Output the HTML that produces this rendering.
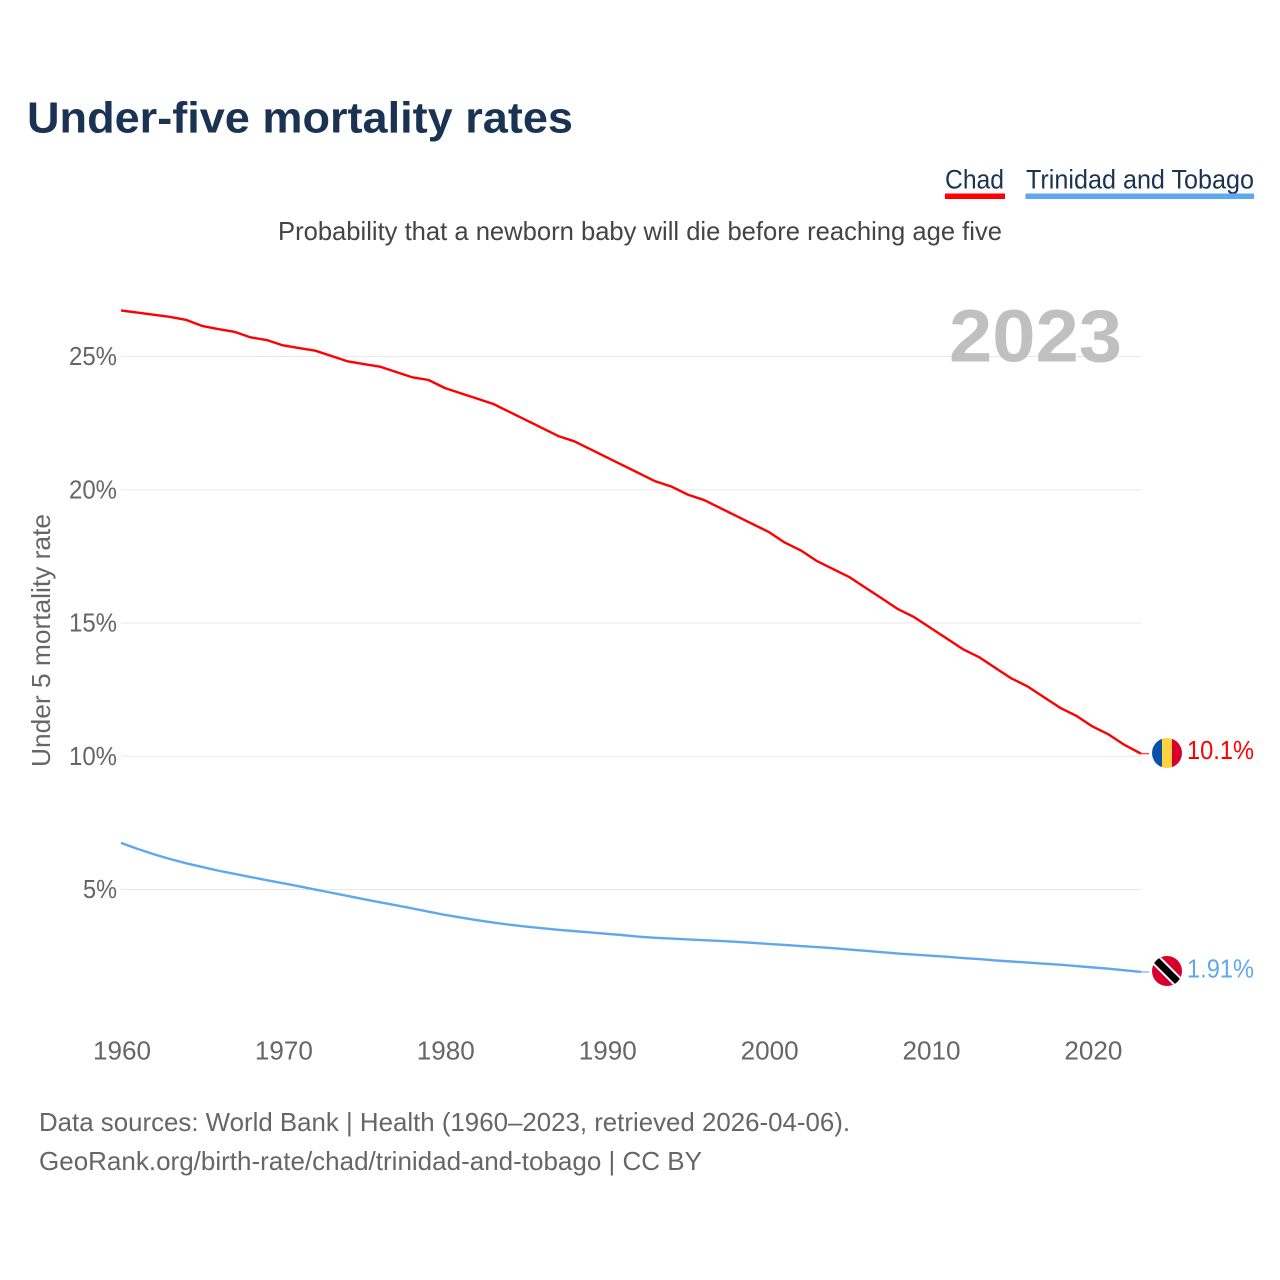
<!DOCTYPE html>
<html lang="en">
<head>
<meta charset="utf-8">
<title>Under-five mortality rates</title>
<style>
html,body{margin:0;padding:0;background:#fff;width:1280px;height:1280px;overflow:hidden}
svg{display:block}
text{font-family:"Liberation Sans",sans-serif}
</style>
</head>
<body>
<svg id="chart" width="1280" height="1280" viewBox="0 0 1280 1280" xmlns="http://www.w3.org/2000/svg">
  <rect width="1280" height="1280" fill="#fff"/>
  <text x="27" y="132.5" font-size="44" font-weight="bold" fill="#1a3353" textLength="546" lengthAdjust="spacingAndGlyphs">Under-five mortality rates</text>
  <text x="945" y="188.5" font-size="27" fill="#1a3353" textLength="59" lengthAdjust="spacingAndGlyphs">Chad</text>
  <rect x="945" y="193.5" width="60" height="5.5" fill="#ff0000"/>
  <text x="1026" y="188.5" font-size="27" fill="#1a3353" textLength="228" lengthAdjust="spacingAndGlyphs">Trinidad and Tobago</text>
  <rect x="1025.5" y="193.5" width="228.5" height="5.5" fill="#5fa8ee"/>
  <text x="278" y="240" font-size="26" fill="#444" textLength="724" lengthAdjust="spacingAndGlyphs">Probability that a newborn baby will die before reaching age five</text>
  <g id="grid"></g>
  <g id="yticks"></g>
  <g id="xticks"></g>
  <text x="949" y="361.5" font-size="74" font-weight="bold" fill="#c0c0c0" textLength="173" lengthAdjust="spacingAndGlyphs">2023</text>
  <text transform="translate(50,767) rotate(-90)" x="0" y="0" font-size="26" fill="#666" textLength="253" lengthAdjust="spacingAndGlyphs">Under 5 mortality rate</text>
  <g id="series"></g>
  <defs>
    <clipPath id="flag-clip-chad"><circle cx="1167" cy="753" r="15"/></clipPath>
    <clipPath id="flag-clip-tt"><circle cx="1167" cy="971" r="15"/></clipPath>
  </defs>
  <g id="flag-chad">
    <g clip-path="url(#flag-clip-chad)">
      <rect x="1152" y="730" width="10" height="46" fill="#0b50a8"/>
      <rect x="1162" y="730" width="10" height="46" fill="#ffd23f"/>
      <rect x="1172" y="730" width="10" height="46" fill="#d7002c"/>
    </g>
  </g>
  <g id="flag-tt">
    <g clip-path="url(#flag-clip-tt)">
      <rect x="1152" y="950" width="30" height="42" fill="#d7002c"/>
      <line x1="1150" y1="954" x2="1184" y2="988" stroke="#fff" stroke-width="11"/>
      <line x1="1150" y1="954" x2="1184" y2="988" stroke="#000" stroke-width="7"/>
    </g>
  </g>
  <text id="value-chad" x="1187" y="760" font-size="26" fill="#ff0000" textLength="67" lengthAdjust="spacingAndGlyphs">10.1%</text>
  <text id="value-tt" x="1187" y="978" font-size="26" fill="#5fa8ee" textLength="67" lengthAdjust="spacingAndGlyphs">1.91%</text>
  <text x="39" y="1131" font-size="26" fill="#666" textLength="811" lengthAdjust="spacingAndGlyphs">Data sources: World Bank | Health (1960–2023, retrieved 2026-04-06).</text>
  <text x="39" y="1170" font-size="26" fill="#666" textLength="663" lengthAdjust="spacingAndGlyphs">GeoRank.org/birth-rate/chad/trinidad-and-tobago | CC BY</text>
</svg>
<script>
const startYear = 1960;
const yTickValues = [5, 10, 15, 20, 25];
const yTickLabels = ["5%", "10%", "15%", "20%", "25%"];
const xTickValues = [1960, 1970, 1980, 1990, 2000, 2010, 2020];
const xTickLabels = ["1960", "1970", "1980", "1990", "2000", "2010", "2020"];
const chadValues = [
  26.73, 26.65, 26.57, 26.49, 26.38, 26.15, 26.03, 25.93, 25.72, 25.62,
  25.42, 25.32, 25.22, 25.02, 24.82, 24.72, 24.62, 24.42, 24.22, 24.12,
  23.82, 23.62, 23.42, 23.22, 22.92, 22.62, 22.32, 22.02, 21.82, 21.52,
  21.22, 20.92, 20.62, 20.32, 20.12, 19.82, 19.62, 19.32, 19.02, 18.72,
  18.42, 18.02, 17.72, 17.32, 17.02, 16.72, 16.32, 15.92, 15.52, 15.22,
  14.82, 14.42, 14.02, 13.72, 13.32, 12.92, 12.62, 12.22, 11.82, 11.52,
  11.12, 10.82, 10.42, 10.1
];
const trinidadValues = [
  6.75, 6.53, 6.33, 6.15, 5.99, 5.85, 5.71, 5.59, 5.47, 5.35,
  5.24, 5.12, 5.0, 4.88, 4.76, 4.64, 4.52, 4.41, 4.29, 4.17,
  4.05, 3.95, 3.85, 3.76, 3.68, 3.61, 3.55, 3.49, 3.44, 3.39,
  3.34, 3.29, 3.23, 3.19, 3.16, 3.13, 3.1, 3.07, 3.04, 3.0,
  2.96, 2.92, 2.88, 2.84, 2.8, 2.75, 2.7, 2.65, 2.6, 2.56,
  2.52, 2.48, 2.43, 2.39, 2.34, 2.3, 2.26, 2.22, 2.18, 2.13,
  2.08, 2.03, 1.97, 1.91
];

const NS = "http://www.w3.org/2000/svg";
const xScale = year => 121 + (year - 1960) * (1141 - 121) / 63;
const yScale = value => 1022.8 - value * 26.65;

function make(tag, attrs, parent, text) {
  const el = document.createElementNS(NS, tag);
  Object.keys(attrs).forEach(k => el.setAttribute(k, attrs[k]));
  if (text !== undefined) el.textContent = text;
  parent.appendChild(el);
  return el;
}

const gridGroup = document.getElementById("grid");
const yGroup = document.getElementById("yticks");
yTickValues.forEach((v, i) => {
  const line = make("line", {x1: 121, x2: 1141, y1: yScale(v), y2: yScale(v), stroke: "#e8e8e8", "stroke-width": 1}, gridGroup);
  
  
  const label = make("text", {
    x: 117, y: yScale(v) + 8.5, "font-size": 26, fill: "#666", "text-anchor": "end",
    textLength: yTickLabels[i].length === 3 ? 48 : 34, lengthAdjust: "spacingAndGlyphs"
  }, yGroup, yTickLabels[i]);
  
  
});

const xGroup = document.getElementById("xticks");
xTickValues.forEach((v, i) => {
  const label = make("text", {x: xScale(v) + 1, y: 1059.5, "font-size": 26, fill: "#666", "text-anchor": "middle", textLength: 58, lengthAdjust: "spacingAndGlyphs"}, xGroup, xTickLabels[i]);
  
  
});

function drawSeries(values, color, name) {
  const group = document.getElementById("series");
  const points = values.map((v, i) => xScale(startYear + i).toFixed(2) + "," + yScale(v).toFixed(2)).join(" ");
  const lastY = yScale(values[values.length - 1]);
  const stub = make("line", {x1: 1141, x2: 1149, y1: lastY, y2: lastY, stroke: color, "stroke-width": 1.5, opacity: 0.7}, group);
  
  
  const line = make("polyline", {points: points, fill: "none", stroke: color, "stroke-width": 2.4, "stroke-linejoin": "round"}, group);
  
  
}
drawSeries(chadValues, "#ff0000", "chad-line");
drawSeries(trinidadValues, "#5fa8ee", "trinidad-line");

const chadEndY = yScale(chadValues[chadValues.length - 1]);
const ttEndY = yScale(trinidadValues[trinidadValues.length - 1]);
document.getElementById("value-chad").setAttribute("y", chadEndY + 5.5);
document.getElementById("value-tt").setAttribute("y", ttEndY + 5.5);
document.getElementById("flag-chad").setAttribute("transform", "translate(0," + (chadEndY - 0.6 - 753) + ")");
document.getElementById("flag-tt").setAttribute("transform", "translate(0," + (ttEndY - 0.9 - 971) + ")");
</script>
</body>
</html>
